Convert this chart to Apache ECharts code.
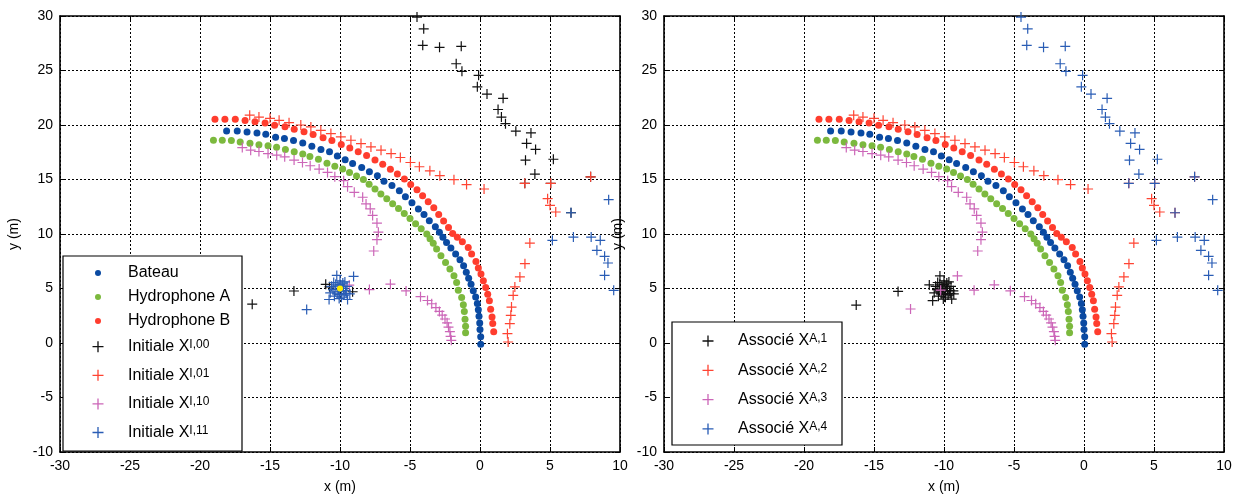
<!DOCTYPE html>
<html><head><meta charset="utf-8">
<script src="https://cdn.jsdelivr.net/npm/echarts@6/dist/echarts.min.js"></script>
<style>html,body{margin:0;padding:0;background:#fff}#c{width:1239px;height:499px}</style>
</head><body><div id="c"></div>
<script>
// ---- data (x, y in metres) ----
const xTicks = [-30, 10, 5];   // min, max, step
const yTicks = [-10, 30, 5];

const boat = [[-18.1,19.45],[-17.34,19.45],[-16.64,19.36],[-15.93,19.27],[-15.30,19.15],[-14.60,18.88],[-13.97,18.76],[-13.32,18.58],[-12.66,18.36],[-12.01,18.06],[-11.36,17.76],[-10.75,17.55],[-10.19,17.15],[-9.63,16.82],[-9.10,16.46],[-8.45,16.10],[-7.90,15.70],[-7.33,15.34],[-6.86,14.85],[-6.29,14.45],[-5.76,13.96],[-5.33,13.41],[-4.86,12.87],[-4.40,12.29],[-4.00,11.80],[-3.62,11.22],[-3.19,10.67],[-2.90,10.15],[-2.65,9.70],[-2.39,9.23],[-2.08,8.71],[-1.74,8.16],[-1.43,7.64],[-1.17,7.09],[-0.98,6.50],[-0.81,5.95],[-0.64,5.40],[-0.48,4.79],[-0.31,4.23],[-0.19,3.62],[-0.12,3.04],[-0.07,2.45],[-0.02,1.84],[0,1.23],[0.05,0.58],[0.05,-0.12]];
const hydroA = [[-19.04,18.61],[-18.41,18.61],[-17.76,18.58],[-17.13,18.45],[-16.43,18.33],[-15.79,18.18],[-15.14,18.09],[-14.53,17.97],[-13.90,17.76],[-13.27,17.55],[-12.66,17.33],[-12.15,17.12],[-11.54,16.85],[-10.93,16.48],[-10.37,16.21],[-9.81,15.97],[-9.32,15.65],[-8.82,15.32],[-8.33,15.0],[-7.92,14.57],[-7.5,14.13],[-7.08,13.68],[-6.66,13.23],[-6.24,12.78],[-5.82,12.33],[-5.41,11.88],[-5.0,11.43],[-4.6,10.95],[-4.2,10.48],[-3.8,10.0],[-3.57,9.57],[-3.34,9.14],[-3.10,8.62],[-2.79,8.0],[-2.46,7.39],[-2.15,6.78],[-1.86,6.17],[-1.67,5.55],[-1.55,4.85],[-1.31,4.17],[-1.19,3.50],[-1.12,2.88],[-1.07,2.18],[-1.03,1.53],[-1.03,0.95]];
const hydroB = [[-18.93,20.52],[-18.22,20.52],[-17.48,20.52],[-16.78,20.42],[-16.07,20.30],[-15.35,20.18],[-14.67,19.97],[-13.93,19.85],[-13.27,19.61],[-12.57,19.39],[-11.92,19.12],[-11.21,18.82],[-10.58,18.58],[-9.91,18.21],[-9.3,17.9],[-8.7,17.55],[-8.1,17.2],[-7.5,16.8],[-6.95,16.4],[-6.4,15.95],[-5.9,15.5],[-5.4,15.05],[-4.95,14.55],[-4.5,14.05],[-4.1,13.5],[-3.7,12.95],[-3.3,12.4],[-2.95,11.8],[-2.6,11.2],[-2.25,10.6],[-1.95,10.05],[-1.62,9.7],[-1.26,9.29],[-0.84,8.77],[-0.60,8.16],[-0.29,7.48],[-0.12,6.87],[0.07,6.32],[0.24,5.71],[0.41,5.09],[0.55,4.48],[0.67,3.87],[0.76,3.10],[0.86,2.39],[0.91,1.78],[0.98,1.04]];

const redArc = [[-16.45,20.9],[-15.79,20.73],[-15.00,20.61],[-14.35,20.43],[-13.64,20.21],[-12.80,20.0],[-12.08,19.82],[-11.37,19.51],[-10.65,19.21],[-9.94,18.91],[-9.22,18.60],[-8.50,18.30],[-7.79,17.99],[-7.07,17.69],[-6.35,17.38],[-5.69,17.02],[-4.97,16.56],[-4.33,16.17],[-3.58,15.80],[-2.87,15.35],[-1.86,14.98],[-0.96,14.53],[0.29,14.13]];
const redShared = [[3.2,14.65],[5.05,14.65],[7.9,15.25]];
const redRight = [[4.83,13.24],[5.0,12.63],[5.41,12.02],[3.56,9.17],[3.21,7.28],[2.85,6.06],[2.49,5.14],[2.37,4.37],[2.25,3.30],[2.20,2.54],[2.13,1.77],[1.96,0.86],[2.01,0.09]];

const magArc = [[-16.98,17.93],[-16.38,17.69],[-15.79,17.57],[-15.14,17.38],[-14.52,17.23],[-13.95,17.08],[-13.28,16.78],[-12.68,16.56],[-12.13,16.26],[-11.49,15.96],[-10.89,15.65],[-10.37,15.26],[-9.74,14.89],[-9.46,14.34],[-8.98,13.82],[-8.38,13.37],[-8.14,12.76],[-7.84,12.31],[-7.67,11.70],[-7.36,11.00],[-7.26,10.17],[-7.36,9.48],[-7.59,8.44]];
const magLow = [[-4.25,4.25],[-3.75,3.9],[-3.45,3.6],[-3.15,3.25],[-2.9,2.9],[-2.7,2.55],[-2.5,2.2],[-2.35,1.85],[-2.25,1.45],[-2.15,1.05],[-2.1,0.6],[-2.05,0.25]];
const magMidL = [[-9.34,5.31],[-7.9,4.9],[-6.4,5.4],[-5.28,4.78]];
const magMidR = [[-9.04,6.15],[-10.24,4.85],[-12.39,3.12],[-7.85,4.85],[-6.41,5.33],[-5.26,4.79]];

const diag = [[-4.5,29.9],[-4.02,28.82],[-4.09,27.31],[-2.89,27.13],[-1.34,27.22],[-1.70,25.62],[-1.29,24.92],[-0.10,24.56],[-0.19,23.50],[0.50,22.84],[1.65,22.45],[1.29,21.42],[1.53,20.73],[1.82,20.12],[2.56,19.43],[3.64,19.27],[3.33,18.31],[3.97,17.76],[3.25,16.77],[5.24,16.86],[3.92,15.50]];
const blackClusterL = [[-16.27,3.56],[-13.29,4.77],[-11.02,5.38],[-10.75,5.15],[-9.1,4.7]];
const blob = [[-10.3,5.4],[-9.8,5.5],[-10.5,4.9],[-9.6,4.8],[-10.2,4.5],[-9.7,4.4],[-10.0,5.7],[-10.6,5.2],[-9.5,5.2],[-10.4,4.3],[-9.9,4.2],[-9.65,5.6],[-10.1,4.95],[-9.85,5.15],[-10.7,4.6],[-9.3,4.5],[-10.15,5.25],[-9.9,4.75],[-10.35,4.7],[-9.75,5.0],[-10.05,4.45],[-10.0,5.35],[-9.55,4.55],[-10.45,5.55]];
const blueOutL = [[-10.23,6.2],[-9.03,6.11],[-10.78,3.99],[-12.38,3.07],[-10.06,4.08],[-9.46,3.99]];
const blackOutR = [[-16.27,3.48],[-13.28,4.73],[-11.05,5.33],[-10.29,6.15],[-10.81,3.88],[-10.05,4.03],[-9.45,4.03],[-9.33,4.79]];
const blueRight = [[6.5,11.95],[9.19,13.15],[5.17,9.42],[6.67,9.72],[7.94,9.72],[8.59,9.42],[8.35,8.50],[8.9,7.95],[9.14,7.34],[8.9,6.21],[9.55,4.83]];
const truePos = [[-10,5]];

const namesL = ['Initiale X I,00','Initiale X I,01','Initiale X I,10','Initiale X I,11'];
const namesR = ['Associé X A,1','Associé X A,2','Associé X A,3','Associé X A,4'];
const dotNames = ['Bateau','Hydrophone A','Hydrophone B'];

// ---- styling ----
const FONT = 'Liberation Sans, Arial, sans-serif';
const C = {boat:'#0a4aa2', a:'#7cb93e', b:'#ff3d2e', k:'#111111', r:'#ff4433', m:'#cc66b8', u:'#2a5db5', y:'#ffee00'};
const PLUS = 'path://M-0.12,-1 L0.12,-1 L0.12,-0.12 L1,-0.12 L1,0.12 L0.12,0.12 L0.12,1 L-0.12,1 L-0.12,0.12 L-1,0.12 L-1,-0.12 L-0.12,-0.12 Z';

function sc(name, data, symbol, size, color, g){
  return {type:'scatter', name, data, xAxisIndex:g*2, yAxisIndex:g*2, symbol, symbolSize:size,
    itemStyle:{color, opacity:1}, emphasis:{disabled:true}, silent:true};
}
const lines = {color:'#000', width:1.6};
function xAx(g, top){
  return {type:'value', gridIndex:g, min:xTicks[0], max:xTicks[1], interval:xTicks[2], position: top?'top':'bottom',
    axisLine:{show:true, onZero:false, lineStyle:lines}, axisTick:{show:true, inside:true, length:5, lineStyle:{color:'#000'}},
    axisLabel:{show:!top, color:'#000', fontSize:14, fontFamily:FONT, margin:7},
    splitLine:{show:!top, lineStyle:{color:'#000', type:[2,2], width:1}},
    name: top?'':'x (m)', nameLocation:'middle', nameGap:28, nameTextStyle:{color:'#000', fontSize:14, fontFamily:FONT}};
}
function yAx(g, right){
  return {type:'value', gridIndex:g, min:yTicks[0], max:yTicks[1], interval:yTicks[2], position: right?'right':'left',
    axisLine:{show:true, onZero:false, lineStyle:lines}, axisTick:{show:true, inside:true, length:5, lineStyle:{color:'#000'}},
    axisLabel:{show:!right, color:'#000', fontSize:14, fontFamily:FONT, margin:7},
    splitLine:{show:!right, lineStyle:{color:'#000', type:[2,2], width:1}},
    name: right?'':'y (m)', nameLocation:'middle', nameGap:39, nameTextStyle:{color:'#000', fontSize:14, fontFamily:FONT}};
}
const supFmt = (name) => { const i = name.lastIndexOf(' '); return '{a|' + name.slice(0,i) + '}{s|' + name.slice(i+1) + '}'; };
const rich = {a:{fontSize:16, fontFamily:FONT, color:'#000', lineHeight:16, padding:[9,0,0,0], verticalAlign:'bottom'},
              s:{fontSize:12, fontFamily:FONT, color:'#000', lineHeight:12, verticalAlign:'top'}};

const series = [
  sc(dotNames[0], boat, 'circle', 7, C.boat, 0),
  sc(dotNames[1], hydroA, 'circle', 7, C.a, 0),
  sc(dotNames[2], hydroB, 'circle', 7, C.b, 0),
  sc(namesL[0], diag.concat(redShared, [[6.5,11.95]], blackClusterL), PLUS, 10, C.k, 0),
  sc(namesL[1], redArc.concat(redShared, redRight), PLUS, 10, C.r, 0),
  sc(namesL[2], magArc.concat(magMidL, magLow), PLUS, 10, C.m, 0),
  sc(namesL[3], blob.concat(blueOutL, blueRight), PLUS, 10, C.u, 0),
  sc('position', truePos, 'circle', 6, C.y, 0),
  sc(dotNames[0], boat, 'circle', 7, C.boat, 1),
  sc(dotNames[1], hydroA, 'circle', 7, C.a, 1),
  sc(dotNames[2], hydroB, 'circle', 7, C.b, 1),
  sc(namesR[0], blackOutR.concat(blob), PLUS, 10, C.k, 1),
  sc(namesR[1], redArc.concat(redShared, redRight, [[6.5,11.95]]), PLUS, 10, C.r, 1),
  sc(namesR[2], magArc.concat(magMidR, magLow), PLUS, 10, C.m, 1),
  sc(namesR[3], diag.concat(redShared, blueRight), PLUS, 10, C.u, 1)
];

const chart = echarts.init(document.getElementById('c'), null, {renderer:'canvas'});
chart.setOption({
  animation:false, backgroundColor:'#fff',
  grid:[{left:60, top:16, width:560, height:437}, {left:664, top:16, width:560, height:437}],
  xAxis:[xAx(0,false), xAx(0,true), xAx(1,false), xAx(1,true)],
  yAxis:[yAx(0,false), yAx(0,true), yAx(1,false), yAx(1,true)],
  graphic:[
    {type:'rect', shape:{x:63, y:256, width:179, height:195}, style:{fill:'#fff', stroke:'#000', lineWidth:1.2}, z:3, silent:true},
    {type:'rect', shape:{x:672, y:322, width:170, height:123}, style:{fill:'#fff', stroke:'#000', lineWidth:1.2}, z:3, silent:true}
  ],
  legend:[
    {orient:'vertical', left:95, top:265, padding:0, itemWidth:50, itemHeight:6, itemGap:8, selectedMode:false, z:5,
     data:dotNames, textStyle:{fontSize:16, fontFamily:FONT, color:'#000', lineHeight:16}},
    {orient:'vertical', left:92.5, top:329.7, padding:0, itemWidth:50, itemHeight:11, itemGap:3.6, selectedMode:false, z:5,
     data:namesL, formatter:supFmt, textStyle:{fontSize:16, fontFamily:FONT, color:'#000', rich}},
    {orient:'vertical', left:702.5, top:324, padding:0, itemWidth:50, itemHeight:11, itemGap:4.3, selectedMode:false, z:5,
     data:namesR, formatter:supFmt, textStyle:{fontSize:16, fontFamily:FONT, color:'#000', rich}}
  ],
  series
});
</script></body></html>
